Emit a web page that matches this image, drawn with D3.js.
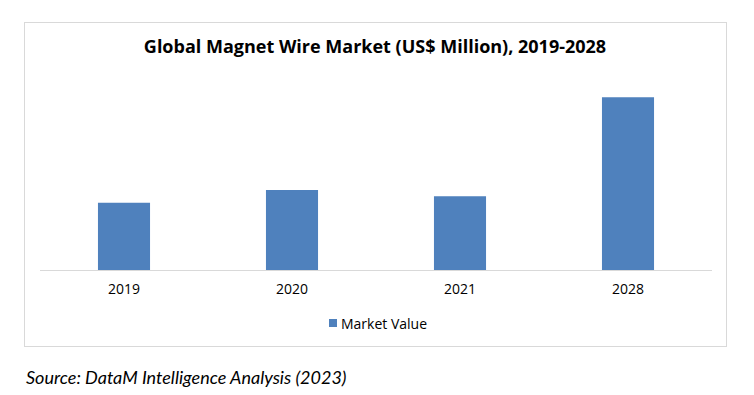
<!DOCTYPE html>
<html>
<head>
<meta charset="utf-8">
<script src="https://cdn.jsdelivr.net/npm/d3@7"></script>
<style>
  body { margin: 0; background: #fff; }
  svg { display: block; }
</style>
</head>
<body>
<svg id="chart" width="754" height="395"></svg>
<script>
const years = ['2019', '2020', '2021', '2028'];
const marketValue = [26.9, 32.0, 29.5, 69.1];
const seriesName = 'Market Value';
const title = 'Global Magnet Wire Market (US$ Million), 2019-2028';
const source = 'Source: DataM Intelligence Analysis (2023)';

const width = 754;
const height = 395;
const barColor = '#4f81bd';
const gridColor = '#d9d9d9';

const svg = d3.select('#chart');

// outer frame
svg.append('rect')
  .attr('x', 24.5)
  .attr('y', 22.5)
  .attr('width', 702)
  .attr('height', 324)
  .attr('fill', '#fff')
  .attr('stroke', gridColor)
  .attr('stroke-width', 1);

svg.append('text')
  .attr('x', 375)
  .attr('y', 53)
  .attr('text-anchor', 'middle')
  .style('font-family', '"Open Sans", sans-serif')
  .style('font-weight', 'bold')
  .style('font-size', '18px')
  .attr('fill', '#000')
  .text(title);

const plot = { left: 40, right: 712, top: 70, bottom: 270 };

const xScale = d3.scaleBand()
  .domain(years)
  .range([plot.left, plot.right])
  .paddingInner(0.69)
  .paddingOuter(0.345);

const yScale = d3.scaleLinear()
  .domain([0, 80])
  .range([plot.bottom, plot.top]);

svg.append('g')
  .attr('class', 'bars')
  .selectAll('rect')
  .data(marketValue)
  .enter()
  .append('rect')
  .attr('x', (d, i) => xScale(years[i]))
  .attr('y', d => yScale(d))
  .attr('width', xScale.bandwidth())
  .attr('height', d => yScale(0) - yScale(d))
  .attr('fill', barColor);

const xAxis = d3.axisBottom(xScale).tickSize(0).tickPadding(14);

const gx = svg.append('g')
  .attr('class', 'x axis')
  .attr('transform', `translate(0, ${plot.bottom})`)
  .call(xAxis);

gx.select('.domain')
  .attr('d', `M${plot.left},0.5H${plot.right}`)
  .attr('stroke', gridColor);

gx.selectAll('text')
  .style('font-family', '"Open Sans", sans-serif')
  .style('font-size', '14px')
  .attr('fill', '#000');

// legend
const legend = svg.append('g')
  .attr('transform', 'translate(329, 319)');

legend.append('rect')
  .attr('width', 8)
  .attr('height', 8)
  .attr('fill', barColor);

legend.append('text')
  .attr('x', 12)
  .attr('y', 9.5)
  .style('font-family', '"Open Sans", sans-serif')
  .style('font-size', '14px')
  .attr('fill', '#000')
  .text(seriesName);

svg.append('text')
  .attr('x', 26)
  .attr('y', 384)
  .style('font-family', 'Lato, sans-serif')
  .style('font-style', 'italic')
  .style('font-size', '18px')
  .attr('fill', '#000')
  .text(source);
</script>
</body>
</html>
